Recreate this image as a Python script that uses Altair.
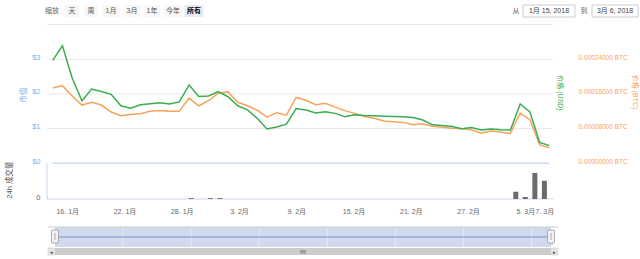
import altair as alt
import pandas as pd

FONT = "Liberation Sans, Noto Sans CJK SC, sans-serif"

# ---------------- data ----------------
dates = pd.date_range("2018-01-15", "2018-03-07", freq="D").strftime("%Y-%m-%d").tolist()

price_usd = [2.97, 3.39, 2.46, 1.80, 2.14, 2.07, 1.99, 1.66, 1.59, 1.69,
             1.72, 1.75, 1.71, 1.77, 2.26, 1.93, 1.94, 2.07, 1.92, 1.66,
             1.54, 1.30, 0.99, 1.05, 1.13, 1.58, 1.54, 1.45, 1.49, 1.44,
             1.34, 1.40, 1.38, 1.37, 1.36, 1.35, 1.34, 1.32, 1.25, 1.11,
             1.09, 1.06, 1.00, 1.03, 0.96, 0.99, 0.97, 0.96, 1.71, 1.48,
             0.60, 0.51]

price_btc = [0.0001736, 0.0001792, 0.0001552, 0.0001344, 0.0001408, 0.0001344,
             0.0001184, 0.0001096, 0.0001128, 0.0001144, 0.0001200, 0.0001216,
             0.0001200, 0.0001200, 0.0001504, 0.0001328, 0.0001448, 0.0001616,
             0.0001648, 0.0001408, 0.0001328, 0.0001224, 0.0001064, 0.0001168,
             0.0001112, 0.0001520, 0.0001456, 0.0001352, 0.0001384, 0.0001296,
             0.0001216, 0.0001152, 0.0001080, 0.0001040, 0.0000976, 0.0000960,
             0.0000944, 0.0000888, 0.0000912, 0.0000856, 0.0000832, 0.0000808,
             0.0000800, 0.0000776, 0.0000696, 0.0000744, 0.0000720, 0.0000688,
             0.0001160, 0.0001008, 0.0000424, 0.0000360]

market_cap = [0] * 52

volume = [0] * 52
volume[14] = 2.5
volume[16] = 2.5
volume[17] = 2.5
volume[48] = 20.3
volume[49] = 5.6
volume[50] = 73.0
volume[51] = 51.0

x_ticks = ["2018-01-16", "2018-01-22", "2018-01-28", "2018-02-03", "2018-02-09",
           "2018-02-15", "2018-02-21", "2018-02-27", "2018-03-05", "2018-03-07"]
nav_ticks = ["2018-01-22", "2018-01-29", "2018-02-05", "2018-02-12",
             "2018-02-19", "2018-02-26", "2018-03-05"]
usd_ticks = [0, 1, 2, 3]
usd_grid = [1, 2, 3, 4]
btc_ticks = [0, 0.00008, 0.00016, 0.00024]
zoom_buttons = ["天", "周", "1月", "3月", "1年", "今年", "所有"]
range_from = "1月 15, 2018"
range_to = "3月 6, 2018"

df = pd.DataFrame({"date": dates, "usd": price_usd, "btc": price_btc,
                   "mcap": market_cap, "vol": volume})
one = pd.DataFrame({"k": [0]})


def dt(s):
    y, m, d = (int(p) for p in s.split("-"))
    return alt.DateTime(year=y, month=m, date=d, utc=True)


# ---------------- scales ----------------
x_main = alt.Scale(type="utc", domain=[dt(dates[0]), dt(dates[-1])], range=[52.7, 549.4])
x_nav = alt.Scale(type="utc", domain=[dt(dates[0]), dt(dates[-1])], range=[55, 551])
y_usd = alt.Scale(domain=[0, 3], range=[163.3, 59.3], nice=False, zero=False)
y_btc = alt.Scale(domain=[0, 0.00024], range=[163.3, 59.3], nice=False, zero=False)
y_vol = alt.Scale(domain=[0, 100], range=[199, 163.3], nice=False, zero=False)
y_nav = alt.Scale(domain=[-1, 1], range=[247, 227], nice=False, zero=False)

BLUE = "#7cb5ec"
GREEN = "#3aad4f"
ORANGE = "#f7a35c"
DATE_EXPR = "utcdate(datum.value) + '. ' + (utcmonth(datum.value) + 1) + '月'"


def box(x, x2, y, y2, fill, stroke=None, sw=1.0, r=0):
    kw = dict(fill=fill)
    if stroke:
        kw.update(stroke=stroke, strokeWidth=sw)
    if r:
        kw.update(cornerRadius=r)
    return alt.Chart(one).mark_rect(**kw).encode(
        x=alt.value(x), x2=alt.value(x2), y=alt.value(y), y2=alt.value(y2))


def hline(x, x2, y, color, sw=1.0):
    return alt.Chart(one).mark_rule(color=color, strokeWidth=sw).encode(
        x=alt.value(x), x2=alt.value(x2), y=alt.value(y))


def vline(x, y, y2, color, sw=1.0):
    return alt.Chart(one).mark_rule(color=color, strokeWidth=sw).encode(
        x=alt.value(x), y=alt.value(y), y2=alt.value(y2))


def label(txt, x, y, size=8, color="#666666", align="center", weight="normal", angle=0):
    return alt.Chart(one).mark_text(text=txt, fontSize=size, color=color, align=align,
                                    baseline="middle", fontWeight=weight, angle=angle,
                                    font=FONT).encode(x=alt.value(x), y=alt.value(y))


layers = []

# gridlines of price pane
layers.append(
    alt.Chart(pd.DataFrame({"v": usd_grid})).mark_rule(color="#e9e9e9", strokeWidth=1).encode(
        y=alt.Y("v:Q", scale=y_usd, axis=None), x=alt.value(47), x2=alt.value(553))
)

# volume pane frame
layers.append(vline(47, 163.3, 199, "#c6d6ee"))
layers.append(hline(47, 553, 199, "#ccd6eb"))

# market cap series (all zero) -> line at $0
layers.append(
    alt.Chart(df).mark_line(color="#c9dcf3", strokeWidth=1.6).encode(
        x=alt.X("date:T", scale=x_main, axis=None),
        y=alt.Y("mcap:Q", scale=y_usd, axis=None))
)

# volume bars
layers.append(
    alt.Chart(df).mark_bar(color="#6b6b6b", size=5).encode(
        x=alt.X("date:T", scale=x_main,
                axis=alt.Axis(orient="bottom", offset=-60, values=[dt(t) for t in x_ticks],
                              labelExpr=DATE_EXPR,
                              domain=False, ticks=False, tickSize=0, grid=False, labelPadding=8,
                              labelFontSize=7, labelColor="#666666", labelFont=FONT,
                              labelFlush=False, labelOverlap=False, title=None)),
        y=alt.Y("vol:Q", scale=y_vol,
                axis=alt.Axis(orient="left", offset=-44, values=[0], domain=False, ticks=False,
                              tickSize=0, grid=False, labelPadding=4, labelFontSize=7.5,
                              labelColor="#666666", labelFont=FONT, labelBaseline="alphabetic",
                              title=None)))
)

# BTC price (orange)
layers.append(
    alt.Chart(df).mark_line(color=ORANGE, strokeWidth=1.5).encode(
        x=alt.X("date:T", scale=x_main, axis=None),
        y=alt.Y("btc:Q", scale=y_btc,
                axis=alt.Axis(orient="right", offset=-64, values=btc_ticks, domain=False,
                              ticks=False, tickSize=0, grid=False, labelPadding=2,
                              labelFontSize=6.5, labelColor=ORANGE, labelFont=FONT,
                              labelBaseline="alphabetic", labelAlign="left",
                              labelExpr="format(datum.value, '.8f') + ' BTC'", title=None)))
)

# USD price (green)
layers.append(
    alt.Chart(df).mark_line(color=GREEN, strokeWidth=1.5).encode(
        x=alt.X("date:T", scale=x_main, axis=None),
        y=alt.Y("usd:Q", scale=y_usd,
                axis=alt.Axis(orient="left", offset=-44, values=usd_ticks, domain=False,
                              ticks=False, tickSize=0, grid=False, labelPadding=4,
                              labelFontSize=7.5, labelColor=BLUE, labelFont=FONT,
                              labelBaseline="alphabetic", labelExpr="'$' + datum.value",
                              title=None)))
)

# axis titles
layers.append(label("市值", 24, 95, size=7.5, color=BLUE, angle=270))
layers.append(label("24h 成交量", 10, 180, size=7.5, color="#555555", angle=270))
layers.append(label("价格 (USD)", 560, 93, size=7, color=GREEN, angle=90))
layers.append(label("价格 (BTC)", 635, 92, size=7, color=ORANGE, angle=90))

# ---------------- range selector ----------------
layers.append(label("缩放", 52, 11, size=7, color="#666666"))
btn_x = [72, 91, 111, 132, 152, 173, 194]
btn_w = [14, 14, 17, 17, 17, 19, 19]
for i, (t, cx, w) in enumerate(zip(zoom_buttons, btn_x, btn_w)):
    sel = i == len(zoom_buttons) - 1
    layers.append(box(cx - w / 2, cx + w / 2, 5, 17, "#e6ebf5" if sel else "#f7f7f7"))
    layers.append(label(t, cx, 11, size=7, color="#000000" if sel else "#555555",
                        weight="bold" if sel else "normal"))

layers.append(label("从", 516, 11, size=7, color="#666666"))
layers.append(box(523, 575, 5, 17, "#ffffff", stroke="#cccccc"))
layers.append(label(range_from, 549, 11, size=7, color="#444444"))
layers.append(label("到", 584, 11, size=7, color="#666666"))
layers.append(box(592, 638, 5, 17, "#ffffff", stroke="#cccccc"))
layers.append(label(range_to, 615, 11, size=7, color="#444444"))

# ---------------- navigator ----------------
nav_ends = pd.DataFrame({"a": [dates[0]], "b": [dates[-1]]})
layers.append(
    alt.Chart(nav_ends).mark_rect(color="#d1daed").encode(
        x=alt.X("a:T", scale=x_nav, axis=None), x2="b:T",
        y=alt.value(227), y2=alt.value(247))
)
layers.append(
    alt.Chart(pd.DataFrame({"t": nav_ticks})).mark_rule(color="#e3e8f3", strokeWidth=1).encode(
        x=alt.X("t:T", scale=x_nav, axis=None), y=alt.value(227), y2=alt.value(247))
)
layers.append(
    alt.Chart(df).mark_line(color="#7692cf", strokeWidth=1.2).encode(
        x=alt.X("date:T", scale=x_nav,
                axis=alt.Axis(orient="bottom", offset=-22, values=[dt(t) for t in nav_ticks],
                              labelExpr=DATE_EXPR,
                              domain=False, ticks=False, tickSize=0, grid=False, labelPadding=0,
                              labelAlign="left", labelOffset=3, labelBaseline="top",
                              labelFontSize=7, labelColor="#999999", labelFont=FONT,
                              labelFlush=False, labelOverlap=False, title=None)),
        y=alt.Y("mcap:Q", scale=y_nav, axis=None))
)
# outline
layers.append(hline(48, 558, 227, "#cccccc"))
# handles
for hx in (55, 551):
    layers.append(box(hx - 3.5, hx + 3.5, 230, 243, "#f2f2f2", stroke="#999999", sw=0.8, r=1))
    layers.append(vline(hx, 233, 240, "#999999", sw=0.8))
# scrollbar
layers.append(box(48, 558, 248, 255, "#f2f2f2"))
layers.append(box(55, 551, 248, 255, "#cccccc"))
layers.append(box(48, 55, 248, 255, "#e6e6e6", stroke="#cccccc", sw=0.6))
layers.append(box(551, 558, 248, 255, "#e6e6e6", stroke="#cccccc", sw=0.6))
layers.append(label("◂", 51.5, 251.5, size=5, color="#333333"))
layers.append(label("▸", 554.5, 251.5, size=5, color="#333333"))
for rx in (301, 303, 305):
    layers.append(vline(rx, 250, 253.5, "#333333", sw=0.6))

chart = alt.layer(*layers).resolve_scale(x="independent", y="independent").properties(
    width=640, height=259, padding=0,
    autosize=alt.AutoSizeParams(type="none"),
    background="#ffffff",
).configure_view(strokeWidth=0)

chart.save("out.html", embed_options={"renderer": "svg", "actions": False})
